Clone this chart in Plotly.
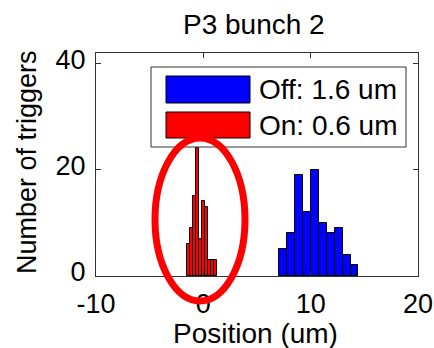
import plotly.graph_objects as go

# Data
off_centers = [7.45, 8.19, 8.92, 9.66, 10.40, 11.14, 11.87, 12.61, 13.35, 14.08]
off_counts = [5, 8, 19, 12, 20, 10, 8, 9, 4, 2]
off_width = 0.737
on_centers = [-1.38, -1.10, -0.82, -0.54, -0.26, 0.02, 0.30, 0.58, 0.86, 1.14]
on_counts = [6, 9, 15, 24, 7, 14, 13, 3, 3, 3]
on_width = 0.28
legend_labels = ["Off: 1.6 um", "On: 0.6 um"]
x_ticks = [-10, 0, 10, 20]
x_ticktext = ["-10", "0", "10", "20"]
y_ticks = [0, 20, 40]
title_text = "P3 bunch 2"
x_title = "Position (um)"
y_title = "Number of triggers"

FONT = "Liberation Sans, Arial, sans-serif"
W, H = 434, 348
L, R, T, B = 96, 16, 53, 72
pw, ph = W - L - R, H - T - B

def px(x):
    return (x - L) / pw

def py(y):
    return (H - B - y) / ph

fig = go.Figure()
fig.add_trace(go.Bar(x=off_centers, y=off_counts, width=off_width,
                     marker=dict(color="#0000ff", line=dict(color="black", width=1)),
                     showlegend=False))
fig.add_trace(go.Bar(x=on_centers, y=on_counts, width=on_width,
                     marker=dict(color="#ff0000", line=dict(color="black", width=1)),
                     showlegend=False))

shapes = []
# legend box
shapes.append(dict(type="rect", xref="paper", yref="paper",
                   x0=px(151), x1=px(406), y0=py(147), y1=py(67),
                   fillcolor="white", line=dict(color="#333", width=1), layer="above"))
shapes.append(dict(type="rect", xref="paper", yref="paper",
                   x0=px(166), x1=px(250), y0=py(103), y1=py(76),
                   fillcolor="#0000ff", line=dict(color="black", width=1), layer="above"))
shapes.append(dict(type="rect", xref="paper", yref="paper",
                   x0=px(166), x1=px(250), y0=py(138), y1=py(112),
                   fillcolor="#ff0000", line=dict(color="black", width=1), layer="above"))
# red ellipse
shapes.append(dict(type="circle", xref="paper", yref="paper",
                   x0=px(155), x1=px(245), y0=py(301), y1=py(138),
                   line=dict(color="#ff0000", width=7), layer="above"))

annotations = [
    dict(text=legend_labels[0], xref="paper", yref="paper", x=px(257), y=py(89.5),
         xanchor="left", yanchor="middle", showarrow=False,
         font=dict(family=FONT, size=28, color="black")),
    dict(text=legend_labels[1], xref="paper", yref="paper", x=px(257), y=py(125),
         xanchor="left", yanchor="middle", showarrow=False,
         font=dict(family=FONT, size=28, color="black")),
    dict(text=title_text, xref="paper", yref="paper", x=px(254), y=py(24),
         xanchor="center", yanchor="middle", showarrow=False,
         font=dict(family=FONT, size=28, color="black")),
    dict(text=x_title, xref="paper", yref="paper", x=px(255), y=py(333),
         xanchor="center", yanchor="middle", showarrow=False,
         font=dict(family=FONT, size=28, color="black")),
    dict(text=y_title, xref="paper", yref="paper", x=px(27), y=py(162),
         xanchor="center", yanchor="middle", showarrow=False, textangle=-90,
         font=dict(family=FONT, size=27, color="black")),
]

fig.update_layout(
    width=W, height=H,
    margin=dict(l=L, r=R, t=T, b=B, pad=0),
    paper_bgcolor="white", plot_bgcolor="white",
    barmode="overlay", bargap=0,
    font=dict(family=FONT, size=26, color="black"),
    shapes=shapes, annotations=annotations,
    xaxis=dict(range=[-10, 20], tickvals=x_ticks, ticktext=x_ticktext,
               ticks="inside", ticklen=5, automargin=False, ticklabelstandoff=4,
               showline=True, mirror="ticks", linecolor="#333", linewidth=1,
               tickcolor="#333", showgrid=False, zeroline=False,
               tickfont=dict(size=27)),
    yaxis=dict(range=[0, 41.9], tickvals=y_ticks, ticks="inside", ticklen=5,
               automargin=False, ticklabelstandoff=4, ticklabelshift=-4,
               showline=True, mirror="ticks", linecolor="#333", linewidth=1,
               tickcolor="#333", showgrid=False, zeroline=False,
               tickfont=dict(size=27)),
)

fig.write_html("out.html")
